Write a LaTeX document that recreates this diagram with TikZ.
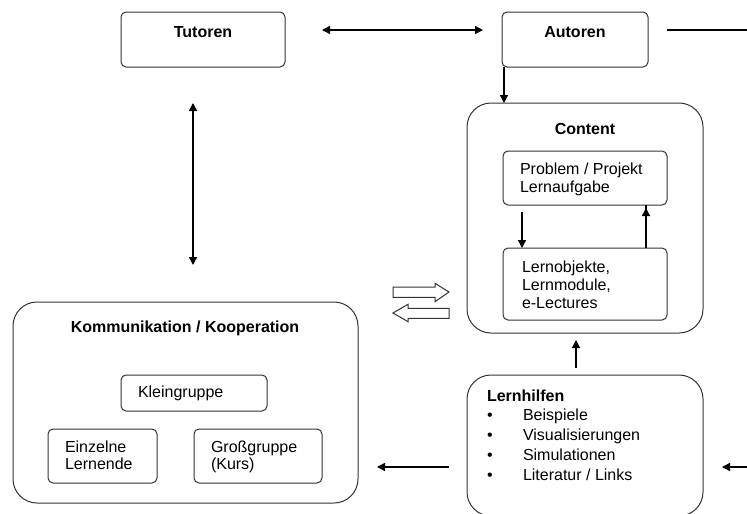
\documentclass[tikz,border=0pt]{standalone}
\usepackage{fontspec}
\setmainfont{Liberation Sans}
\usetikzlibrary{arrows.meta}
\begin{document}
\begin{tikzpicture}[x=1pt,y=-1pt,
  every node/.style={inner sep=0pt, outer sep=0pt},
  box/.style={draw=black!80, line width=1pt, rounded corners=5pt},
  bigbox/.style={draw=black!80, line width=1pt, rounded corners=24pt},
  title/.style={font=\fontsize{16}{18}\selectfont\bfseries, anchor=base},
  txt/.style={font=\fontsize{16}{18}\selectfont, align=left, anchor=north west},
  ltxt/.style={font=\fontsize{16}{17}\selectfont, align=left, anchor=north west},
  item/.style={font=\fontsize{16}{18}\selectfont, anchor=base west},
  conn/.style={line width=1.3pt, draw=black},
  tip/.style={line width=1.3pt, draw=black, -{Triangle[length=8pt,width=8pt]}},
  tips/.style={line width=1.3pt, draw=black, {Triangle[length=8pt,width=8pt]}-{Triangle[length=8pt,width=8pt]}},
  hollow/.style={draw=black!80, line width=1pt, fill=white}
]
\useasboundingbox (0,0) rectangle (747,514);
\clip (0,0) rectangle (747,514);

% top row
\node[box, minimum width=164pt, minimum height=55pt] (tut) at (203,39.5) {};
\node[title] (tutT) at (203,37.7) {Tutoren};
\node[box, minimum width=146pt, minimum height=55pt] (aut) at (575,39.5) {};
\node[title] (autT) at (575,37.7) {Autoren};

% content block
\node[bigbox, minimum width=236pt, minimum height=230pt] (con) at (585,218) {};
\node[title] (conT) at (585,134.7) {Content};
\node[box, minimum width=164pt, minimum height=54pt] (prob) at (585,178) {};
\node[txt] (probT) at (520,163) {Problem / Projekt\\Lernaufgabe};
\node[box, minimum width=164pt, minimum height=72pt] (lobj) at (585,284) {};
\node[txt] (lobjT) at (522,261) {Lernobjekte,\\Lernmodule,\\e-Lectures};

% communication block
\node[bigbox, minimum width=345pt, minimum height=201pt] (komm) at (185.5,402.5) {};
\node[title] (kommT) at (185,332.7) {Kommunikation / Kooperation};
\node[box, minimum width=146pt, minimum height=36pt] (klein) at (194,393) {};
\node[item] (kleinT) at (138,397.7) {Kleingruppe};
\node[box, minimum width=109pt, minimum height=54pt] (einz) at (102.5,456) {};
\node[ltxt] (einzT) at (65,441) {Einzelne\\Lernende};
\node[box, minimum width=128pt, minimum height=54pt] (gross) at (258,456) {};
\node[ltxt] (grossT) at (211,441) {Großgruppe\\(Kurs)};

% learning aids
\node[bigbox, minimum width=236pt, minimum height=141pt] (lern) at (585,445.5) {};
\node[font=\fontsize{16}{18}\selectfont\bfseries, anchor=base west] (lernT) at (487,401.7) {Lernhilfen};
\foreach \t [count=\i] in {Beispiele, Visualisierungen, Simulationen, Literatur / Links} {
  \node[font=\fontsize{16}{18}\selectfont, anchor=base] (b\i) at (490,400.7+20*\i) {•};
  \node[item] (li\i) at (523,400.7+20*\i) {\t};
}

% free ends of the connectors
\coordinate (ta) at (322,30);
\coordinate (tb) at (483,30);
\coordinate (ar) at (667,30);
\coordinate (ae) at (747,30);
\coordinate (va) at (193,103);
\coordinate (vb) at (193,265);
\coordinate (lu) at (576,368);
\coordinate (lt) at (576,340);
\coordinate (ls) at (449,467);
\coordinate (lk) at (377,467);
\coordinate (re) at (747,467);
\coordinate (rt) at (722,467);

% connectors
\draw[tips] (ta) -- (tb);
\draw[conn] (ar) -- (ae);
\draw[tip] ([xshift=2pt]aut.south west) -- ([xshift=2pt]aut.south west |- con.north);
\draw[tips] (va) -- (vb);
\draw[tip] (prob.south west) ++(19,7) coordinate (pd) -- (pd |- lobj.north);
\draw[tip] (lobj.north east) ++(-21,0) coordinate (pu) -- (pu |- prob.south) ++(0,3);
\draw[tip] (lu) -- (lt);
\draw[tip] (ls) -- (lk);
\draw[tip] (re) -- (rt);

% exchange arrows between communication and content
\draw[hollow] (393,287) -- (435,287) -- (435,283.3) -- (449,292) -- (435,301.7)
  -- (435,297.3) -- (393,297.3) -- cycle;
\draw[hollow] (449,308.3) -- (408,308.3) -- (408,304.3) -- (393,313) -- (408,321.7)
  -- (408,318.3) -- (449,318.3) -- cycle;
\end{tikzpicture}
\end{document}
